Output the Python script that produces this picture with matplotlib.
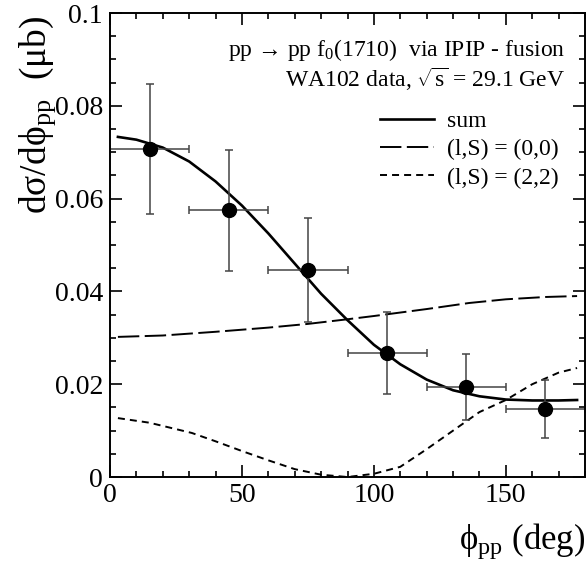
import matplotlib
matplotlib.use("Agg")
import matplotlib.pyplot as plt
from matplotlib.ticker import MultipleLocator

plt.rcParams['font.family'] = ['Liberation Serif', 'DejaVu Serif']
plt.rcParams['mathtext.fontset'] = 'custom'
plt.rcParams['mathtext.rm'] = 'Liberation Serif'
plt.rcParams['mathtext.it'] = 'Liberation Serif:italic'

# WA102 data points
phi_data = [15, 45, 75, 105, 135, 165]
sig_data = [0.0707, 0.0575, 0.0446, 0.0267, 0.0194, 0.0147]
sig_err = [0.0140, 0.0130, 0.0112, 0.0088, 0.0072, 0.0063]
phi_err = [15, 15, 15, 15, 15, 15]

# model curves
phi_sum = [3, 10, 20, 30, 40, 50, 60, 70, 80, 90, 100, 110, 120, 130, 140, 150, 160, 170, 177]
sig_sum = [0.0733, 0.0727, 0.0710, 0.0680, 0.0637, 0.0585, 0.0525, 0.0460, 0.0395, 0.0338,
           0.0285, 0.0243, 0.0210, 0.0187, 0.0174, 0.0167, 0.0165, 0.0165, 0.0166]

phi_00 = [3, 20, 40, 60, 75, 90, 100, 120, 136, 150, 165, 177]
sig_00 = [0.0302, 0.0305, 0.0313, 0.0322, 0.0330, 0.0340, 0.0347, 0.0362, 0.0375, 0.0383,
          0.0388, 0.0390]

phi_22 = [3, 15, 31, 40, 50, 60, 70, 80, 90, 100, 110, 120, 130, 140, 150, 160, 170, 177]
sig_22 = [0.0127, 0.0117, 0.0095, 0.0077, 0.0056, 0.0036, 0.0017, 0.0005, 0.0000, 0.0007,
          0.0022, 0.0060, 0.0100, 0.0140, 0.0166, 0.0200, 0.0225, 0.0235]

fig = plt.figure(figsize=(5.87, 5.63), dpi=100)
ax = fig.add_axes([0.1874, 0.1527, 0.8092, 0.8242])

ax.plot(phi_sum, sig_sum, color='black', lw=1.9, label='sum')
ax.plot(phi_00, sig_00, color='black', lw=1.4, dashes=(11, 2.8), label='(l,S) = (0,0)')
ax.plot(phi_22, sig_22, color='black', lw=1.4, dashes=(3.6, 2.6), label='(l,S) = (2,2)')

ax.errorbar(phi_data, sig_data, xerr=phi_err, yerr=sig_err, fmt='o', color='black',
            ecolor='#444444', elinewidth=1.1, capsize=3, capthick=1.1, markersize=10)

ax.set_xlim(0, 180)
ax.set_ylim(0, 0.1)
ax.xaxis.set_major_locator(MultipleLocator(50))
ax.xaxis.set_minor_locator(MultipleLocator(10))
ax.yaxis.set_minor_locator(MultipleLocator(0.005))
ax.set_yticks([0, 0.02, 0.04, 0.06, 0.08, 0.1])
ax.set_yticklabels(['0', '0.02', '0.04', '0.06', '0.08', '0.1'])
ax.tick_params(which='both', direction='in', top=True, right=True, labelsize=20, width=1.2)
ax.tick_params(which='major', length=8.5)
ax.tick_params(which='minor', length=4.3)
ax.tick_params(axis='y', pad=5)
ax.tick_params(axis='x', pad=4)
for sp in ax.spines.values():
    sp.set_linewidth(1.4)

ax.set_xlabel('ϕ$_{\\mathrm{pp}}$ (deg)', fontsize=25, ha='right', va='top')
ax.xaxis.set_label_coords(1.0, -0.095)
ax.set_ylabel('dσ/dϕ$_{\\mathrm{pp}}$  (μb)', fontsize=27, ha='right', va='bottom')
ax.yaxis.set_label_coords(-0.11, 0.995)

ax.text(0.958, 0.908, 'pp → pp f$_0$(1710)  via IPIP - fusion', transform=ax.transAxes,
        ha='right', va='baseline', fontsize=17)
ax.text(0.958, 0.84, 'WA102 data, $\\sqrt{\\mathrm{s}}$ = 29.1 GeV', transform=ax.transAxes,
        ha='right', va='baseline', fontsize=17)

ax.legend(loc='upper right', bbox_to_anchor=(0.99, 0.835), frameon=False, fontsize=17,
          handlelength=2.3, labelspacing=0.28, handletextpad=0.55)

fig.savefig('out.png', dpi=100)
